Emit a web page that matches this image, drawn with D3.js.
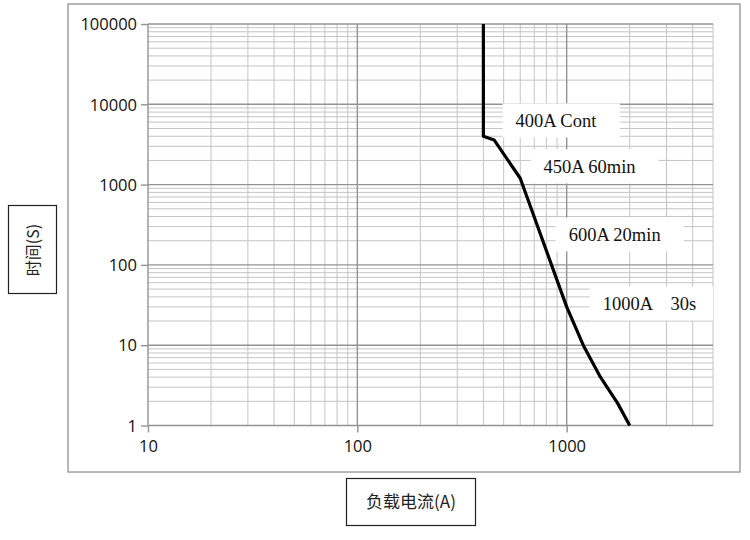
<!DOCTYPE html>
<html>
<head>
<meta charset="utf-8">
<script src="https://cdn.jsdelivr.net/npm/d3@7"></script>
<style>
  body { margin: 0; background: #fff; }
  svg { display: block; }
</style>
</head>
<body>
<svg id="chart"></svg>
<script>
// curve points: current (A) and trip time (s)
const currentA = [400, 400, 450, 600, 1000, 1200, 1450, 1750, 2000];
const timeS = [100000, 4000, 3600, 1200, 30, 10, 4, 1.9, 1];

const xTicks = [10, 100, 1000];
const yTicks = [1, 10, 100, 1000, 10000, 100000];

// annotation texts, anchored (left edge, middle) in data units
const noteText = ["400A Cont", "450A 60min", "600A 20min", "1000A    30s"];
const noteCurrent = [570, 776, 1022, 1486];
const noteTime = [6200, 1660, 236, 32.6];

const width = 750, height = 540;
const margin = {top: 24, right: 37, bottom: 114.5, left: 148};
const plotW = width - margin.left - margin.right;
const plotH = height - margin.top - margin.bottom;

const svg = d3.select('#chart')
    .attr('width', width)
    .attr('height', height);

// outer chart frame
svg.append('rect')
    .attr('x', 68).attr('y', 4)
    .attr('width', 672).attr('height', 468)
    .attr('fill', 'none')
    .attr('stroke', '#a0a0a0')
    .attr('stroke-width', 1.5);

const g = svg.append('g')
    .attr('transform', 'translate(' + margin.left + ',' + margin.top + ')');

const x = d3.scaleLog().domain([10, 5000]).range([0, plotW]);
const y = d3.scaleLog().domain([1, 100000]).range([plotH, 0]);

// minor + major grid values (1..9 per decade)
function gridValues(lo, hi) {
  const out = [];
  for (let p = lo; p < hi; p *= 10) {
    for (let k = 1; k < 10; k++) {
      if (p * k <= hi) out.push(p * k);
    }
  }
  out.push(hi);
  return Array.from(new Set(out));
}
const isMajor = v => Math.abs(Math.log10(v) - Math.round(Math.log10(v))) < 1e-9;

const xGrid = gridValues(10, 5000);
const yGrid = gridValues(1, 100000);

g.append('g').selectAll('line')
    .data(yGrid.filter(v => !isMajor(v)))
    .enter().append('line')
    .attr('x1', 0).attr('x2', plotW)
    .attr('y1', d => y(d)).attr('y2', d => y(d))
    .attr('stroke', '#c4c4c4').attr('stroke-width', 1);

g.append('g').selectAll('line')
    .data(xGrid.filter(v => !isMajor(v)))
    .enter().append('line')
    .attr('y1', 0).attr('y2', plotH)
    .attr('x1', d => x(d)).attr('x2', d => x(d))
    .attr('stroke', '#c4c4c4').attr('stroke-width', 1);

g.append('g').selectAll('line')
    .data(yGrid.filter(isMajor))
    .enter().append('line')
    .attr('x1', 0).attr('x2', plotW)
    .attr('y1', d => y(d)).attr('y2', d => y(d))
    .attr('stroke', '#939393').attr('stroke-width', 1.4);

g.append('g').selectAll('line')
    .data(xGrid.filter(isMajor))
    .enter().append('line')
    .attr('y1', 0).attr('y2', plotH)
    .attr('x1', d => x(d)).attr('x2', d => x(d))
    .attr('stroke', '#939393').attr('stroke-width', 1.4);

// axes
const xAxis = g.append('g')
    .attr('transform', 'translate(0,' + plotH + ')')
    .call(d3.axisBottom(x).tickValues(xTicks).tickFormat(d3.format('d')).tickSize(7).tickPadding(8));
const yAxis = g.append('g')
    .call(d3.axisLeft(y).tickValues(yTicks).tickFormat(d3.format('d')).tickSize(7).tickPadding(4));

[xAxis, yAxis].forEach(a => {
  a.select('.domain').remove();
  a.selectAll('line').attr('stroke', '#939393').attr('stroke-width', 1.4);
  a.selectAll('text')
      .attr('fill', '#111')
      .style('font-family', '"Open Sans", "Liberation Sans", sans-serif')
      .style('font-size', '16.5px');
});
yAxis.selectAll('text').attr('dy', '0.35em');

// annotation boxes (white) drawn before the curve
const notes = noteText.map((t, i) => ({text: t, cx: noteCurrent[i], ty: noteTime[i]}));
const noteG = g.append('g').selectAll('g')
    .data(notes)
    .enter().append('g')
    .attr('transform', d => 'translate(' + x(d.cx) + ',' + y(d.ty) + ')');

noteG.append('rect').attr('fill', '#fff');
const txt = noteG.append('text')
    .attr('x', 0).attr('y', 0)
    .attr('dy', '0.35em')
    .attr('fill', '#111')
    .style('white-space', 'pre')
    .style('font-family', '"Liberation Serif", "Times New Roman", serif')
    .style('font-size', '18.5px')
    .text(d => d.text);

txt.each(function(d) {
  const b = this.getBBox();
  d3.select(this.parentNode).select('rect')
      .attr('x', b.x - 13)
      .attr('y', b.y - 8)
      .attr('width', Math.min(b.width + 36, plotW - (x(d.cx) + b.x - 13)))
      .attr('height', b.height + 14);
});

// trip curve
const line = d3.line()
    .x((d, i) => x(currentA[i]))
    .y((d, i) => y(timeS[i]));

g.append('path')
    .datum(timeS)
    .attr('d', line)
    .attr('fill', 'none')
    .attr('stroke', '#000')
    .attr('stroke-width', 3.2)
    .attr('stroke-linejoin', 'round');

// axis title boxes
svg.append('rect')
    .attr('x', 8.5).attr('y', 205.5)
    .attr('width', 48).attr('height', 88)
    .attr('fill', '#fff').attr('stroke', '#222').attr('stroke-width', 1.2);
svg.append('text')
    .attr('transform', 'translate(33,250) rotate(-90)')
    .attr('text-anchor', 'middle')
    .attr('dy', '0.35em')
    .attr('fill', '#222')
    .style('font-family', '"Noto Sans CJK SC", sans-serif')
    .style('font-size', '16px')
    .text('时间(S)');

svg.append('rect')
    .attr('x', 346.5).attr('y', 478.5)
    .attr('width', 129).attr('height', 47)
    .attr('fill', '#fff').attr('stroke', '#222').attr('stroke-width', 1.2);
svg.append('text')
    .attr('x', 411).attr('y', 502)
    .attr('text-anchor', 'middle')
    .attr('dy', '0.35em')
    .attr('fill', '#222')
    .style('font-family', '"Noto Sans CJK SC", sans-serif')
    .style('font-size', '17px')
    .text('负载电流(A)');
</script>
</body>
</html>
